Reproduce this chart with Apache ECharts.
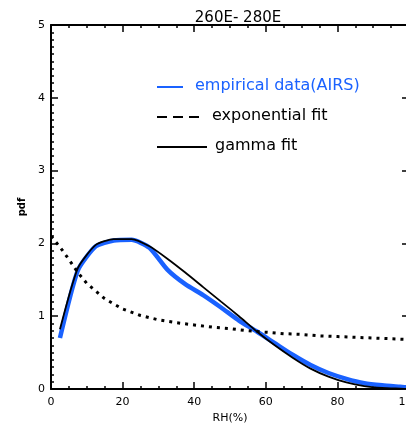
<!DOCTYPE html>
<html><head><meta charset="utf-8">
<script src="https://cdn.jsdelivr.net/npm/echarts@6/dist/echarts.min.js"></script>
<style>html,body{margin:0;padding:0;background:#fff}#c{width:406px;height:432px}</style>
</head><body><div id="c"></div>
<script>
var titleText = '260E- 280E';
var xName = 'RH(%)';
var yName = 'pdf';
var legendNames = ['empirical data(AIRS)', 'exponential fit', 'gamma fit'];
var xTicks = [0, 20, 40, 60, 80, 100];
var yTicks = [0, 1, 2, 3, 4, 5];

var empX = [2.5, 7.5, 12.5, 17.5, 22.5, 27.5, 32.5, 37.5, 42.5, 47.5, 52.5, 57.5, 62.5, 67.5, 72.5, 77.5, 82.5, 87.5, 92.5, 97.5, 100];
var empY = [0.70, 1.63, 1.96, 2.04, 2.05, 1.94, 1.64, 1.44, 1.29, 1.12, 0.94, 0.79, 0.63, 0.47, 0.33, 0.22, 0.14, 0.08, 0.05, 0.03, 0.02];

var gamX = [2.5, 7.5, 12.5, 17.5, 22.5, 27.5, 32.5, 37.5, 42.5, 47.5, 52.5, 57.5, 62.5, 67.5, 72.5, 77.5, 82.5, 87.5, 92.5, 97.5, 100];
var gamY = [0.82, 1.66, 1.98, 2.06, 2.06, 1.96, 1.79, 1.60, 1.40, 1.20, 1.00, 0.79, 0.60, 0.43, 0.28, 0.17, 0.09, 0.04, 0.015, 0.005, 0.0];

var expX = [0, 2.5, 5, 7.5, 10, 15, 20, 25, 30, 35, 40, 45, 50, 55, 60, 65, 70, 75, 80, 85, 90, 95, 100];
var expY = [2.1, 1.95, 1.78, 1.6, 1.45, 1.24, 1.1, 1.01, 0.95, 0.91, 0.88, 0.85, 0.83, 0.80, 0.78, 0.76, 0.75, 0.73, 0.72, 0.71, 0.70, 0.69, 0.68];

function zip(a, b) { return a.map(function (v, i) { return [v, b[i]]; }); }

var FONT = 'DejaVu Sans';
var chart = echarts.init(document.getElementById('c'), null, {renderer: 'canvas'});
var axisCommon = {
  type: 'value',
  axisLine: {show: true, onZero: false, lineStyle: {color: '#000', width: 2}},
  axisTick: {show: true, inside: true, length: 7, lineStyle: {color: '#000', width: 1.5}},
  minorTick: {show: true, length: 3, lineStyle: {color: '#000', width: 1.5}},
  splitLine: {show: false},
  axisLabel: {color: '#000', fontFamily: FONT, fontSize: 11}
};
function ax(extra) { return Object.assign({}, JSON.parse(JSON.stringify(axisCommon)), extra); }

var xa = ax({min: xTicks[0], max: xTicks[xTicks.length - 1], interval: 20, position: 'bottom',
  name: xName, nameLocation: 'middle', nameGap: 23,
  nameTextStyle: {color: '#000', fontFamily: FONT, fontSize: 11}});
xa.minorTick.splitNumber = 4;
xa.axisLabel.margin = 8;
var xa2 = ax({min: 0, max: 100, interval: 20, position: 'top', axisLabel: {show: false}});
xa2.minorTick.splitNumber = 4;
var ya = ax({min: yTicks[0], max: yTicks[yTicks.length - 1], interval: 1, position: 'left',
  name: yName, nameLocation: 'middle', nameGap: 20, nameRotate: 90,
  nameTextStyle: {color: '#000', fontFamily: FONT, fontSize: 10, fontWeight: 'bold'}});
ya.minorTick.splitNumber = 10;
ya.axisLabel.margin = 6;
var ya2 = ax({min: 0, max: 5, interval: 1, position: 'right', axisLabel: {show: false}});
ya2.minorTick.splitNumber = 10;

chart.setOption({
  animation: false,
  backgroundColor: '#fff',
  title: {text: titleText, left: 233, top: 6, textAlign: 'center',
    textStyle: {color: '#000', fontFamily: FONT, fontSize: 15, fontWeight: 'normal'}},
  grid: {left: 51, right: -3, top: 25, bottom: 43, containLabel: false, outerBoundsMode: 'none'},
  xAxis: [xa, xa2],
  yAxis: [ya, ya2],
  series: [
    {name: legendNames[1], type: 'line', data: zip(expX, expY), showSymbol: false,
      lineStyle: {color: '#000', width: 3, type: [3, 5], cap: 'butt'}, z: 3},
    {name: legendNames[0], type: 'line', data: zip(empX, empY), showSymbol: false, smooth: 0.2,
      lineStyle: {color: '#1a62ff', width: 4.5}, z: 2},
    {name: legendNames[2], type: 'line', data: zip(gamX, gamY), showSymbol: false, smooth: 0.2,
      lineStyle: {color: '#000', width: 1.8}, z: 4}
  ],
  graphic: [
    {type: 'line', shape: {x1: 157, y1: 87, x2: 183, y2: 87}, style: {stroke: '#1a62ff', lineWidth: 2}},
    {type: 'text', left: 195, top: 78, style: {text: legendNames[0], fill: '#1a62ff', font: '16px "DejaVu Sans"'}},
    {type: 'line', shape: {x1: 157, y1: 117, x2: 203, y2: 117}, style: {stroke: '#000', lineWidth: 2, lineDash: [10, 6]}},
    {type: 'text', left: 212, top: 108, style: {text: legendNames[1], fill: '#000', font: '16px "DejaVu Sans"'}},
    {type: 'line', shape: {x1: 157, y1: 147, x2: 207, y2: 147}, style: {stroke: '#000', lineWidth: 2}},
    {type: 'text', left: 215, top: 138, style: {text: legendNames[2], fill: '#000', font: '16px "DejaVu Sans"'}}
  ]
});
</script></body></html>
